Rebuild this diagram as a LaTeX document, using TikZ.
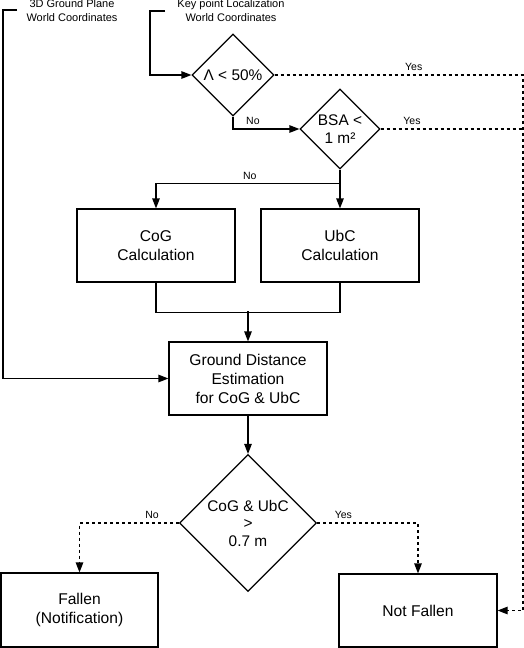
\documentclass[tikz,border=0pt]{standalone}
\usepackage{fontspec}
\setmainfont{Liberation Sans}
\usetikzlibrary{shapes.geometric,arrows.meta}

\begin{document}
\begin{tikzpicture}[x=1pt, y=-1pt, line width=1.2pt, >={Triangle[length=10pt,width=7.5pt]},
  box/.style={draw, rectangle, minimum width=158pt, minimum height=73pt, align=center, font=\fontsize{15.6}{19}\selectfont},
  dec/.style={draw, diamond, aspect=1, inner sep=0pt, align=center, font=\fontsize{15.4}{17.5}\selectfont},
  note/.style={align=center, font=\fontsize{11}{14}\selectfont},
  lbl/.style={font=\fontsize{10.5}{12}\selectfont},
  dsh/.style={dashed, dash pattern=on 3pt off 3pt}]
\useasboundingbox (0,0) rectangle (524,648);

% inputs
\node[note] (gpl) at (72,11) {3D Ground Plane\\World Coordinates};
\node[note] (kpl) at (231,11) {Key point Localization\\World Coordinates};
\coordinate (gp) at (17,10);
\coordinate (kp) at (165,11);

% decisions and steps
\node[dec, minimum width=82pt, minimum height=82pt] (lam) at (233,75) {Λ < 50\%};
\node[dec, minimum width=80pt, minimum height=80pt] (bsa) at (340,129) {BSA <\\1 m²};
\node[box] (cog) at (156,245.5) {CoG\\Calculation};
\node[box] (ubc) at (340,245.5) {UbC\\Calculation};
\node[box] (gnd) at (248,378.5) {Ground Distance\\Estimation\\for CoG \& UbC};
\node[dec, minimum width=137pt, minimum height=137pt] (chk) at (248,523) {CoG \& UbC\\>\\0.7 m};
\node[box, minimum width=157pt, minimum height=74pt] (fal) at (79.5,610) {Fallen\\(Notification)};
\node[box] (nfl) at (418,610.5) {Not Fallen};

% connectors
\draw[->] (gp) -- ++(-14,0) |- (gnd.west);
\draw[->] (kp) -- ++(-15,0) |- (lam.west);
\draw[->] (lam.south) |- (bsa.west) node[lbl, pos=0.65, above] {No};
\draw[->] (bsa.south) -- (ubc.north);
\draw[->] (bsa.south) ++(0,14) -| (cog.north) node[lbl, pos=0.245, above] {No};
\draw (cog.south) -- ++(0,30) -| (ubc.south);
\draw[->] (gnd.north) ++(0,-30) -- (gnd.north);
\draw[->] (gnd.south) -- (chk.north);
\draw[dsh, ->] (lam.east) -- (lam.east -| 523,0) node[lbl, pos=0.56, above] {Yes} |- (nfl.east);
\draw[dsh] (bsa.east) -- (bsa.east -| 523,0) node[lbl, pos=0.22, above] {Yes};
\draw[dsh, ->] (chk.west) -| (fal.north) node[lbl, pos=0.135, above] {No};
\draw[dsh, ->] (chk.east) -| (nfl.north) node[lbl, pos=0.13, above] {Yes};
\end{tikzpicture}
\end{document}
